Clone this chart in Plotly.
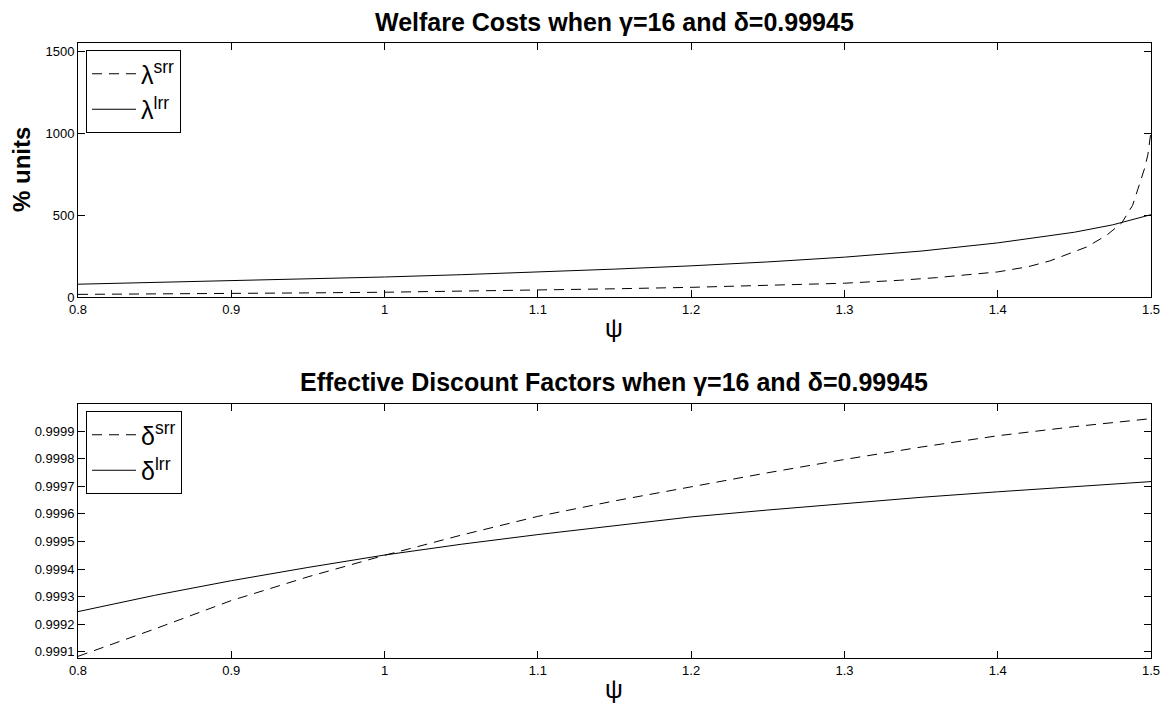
import plotly.graph_objects as go

# ---- data ----
psi_lrr = [0.8, 0.85, 0.9, 0.95, 1.0, 1.05, 1.1, 1.15, 1.2, 1.25, 1.3, 1.35, 1.4, 1.45, 1.475, 1.5]
lambda_lrr = [78, 88, 99, 110, 122, 136, 152, 170, 190, 214, 243, 280, 330, 395, 440, 502]

psi_srr = [0.8, 0.85, 0.9, 0.95, 1.0, 1.05, 1.1, 1.15, 1.2, 1.25, 1.3, 1.336, 1.36, 1.4,
           1.42, 1.434, 1.445, 1.458, 1.471, 1.481, 1.488, 1.4928, 1.496, 1.498, 1.5]
lambda_srr = [16, 18, 21, 25, 29, 35, 42, 50, 59, 70, 84, 102, 118, 153,
              185, 220, 260, 305, 376, 453, 559, 691, 790, 870, 1010]

psi_d = [0.8, 0.85, 0.9, 0.95, 1.0, 1.05, 1.1, 1.15, 1.2, 1.25, 1.3, 1.35, 1.4, 1.45, 1.5]
delta_srr = [0.999084, 0.999183, 0.999286, 0.999372, 0.999450, 0.999523, 0.999591, 0.999647,
             0.999698, 0.999749, 0.999797, 0.999842, 0.999883, 0.999916, 0.999945]
delta_lrr = [0.999246, 0.999305, 0.999358, 0.999406, 0.999451, 0.999490, 0.999525, 0.999558,
             0.999589, 0.999614, 0.999638, 0.999660, 0.999680, 0.999699, 0.999717]

x_ticks = [0.8, 0.9, 1.0, 1.1, 1.2, 1.3, 1.4, 1.5]
x_ticktext = ["0.8", "0.9", "1", "1.1", "1.2", "1.3", "1.4", "1.5"]
y1_ticks = [0, 500, 1000, 1500]
y2_ticks = [0.9991, 0.9992, 0.9993, 0.9994, 0.9995, 0.9996, 0.9997, 0.9998, 0.9999]

# the page body has an 8px margin: the figure is offset by 8px inside the window
OFF = 8
W, H = 1173 - OFF, 711 - OFF
FONT = "Liberation Sans, Arial, Helvetica, sans-serif"
dash = "10px,7px"


def px(x):
    return (x - OFF) / W


def py(y):
    return 1 - (y - OFF) / H


fig = go.Figure()
fig.add_trace(go.Scatter(x=psi_srr, y=lambda_srr, mode="lines", name="λ<sup>srr</sup>",
                         line=dict(color="black", width=1, dash=dash), xaxis="x", yaxis="y", legend="legend"))
fig.add_trace(go.Scatter(x=psi_lrr, y=lambda_lrr, mode="lines", name="λ<sup>lrr</sup>",
                         line=dict(color="black", width=1), xaxis="x", yaxis="y", legend="legend"))
fig.add_trace(go.Scatter(x=psi_d, y=delta_srr, mode="lines", name="δ<sup>srr</sup>",
                         line=dict(color="black", width=1, dash=dash), xaxis="x2", yaxis="y2", legend="legend2"))
fig.add_trace(go.Scatter(x=psi_d, y=delta_lrr, mode="lines", name="δ<sup>lrr</sup>",
                         line=dict(color="black", width=1), xaxis="x2", yaxis="y2", legend="legend2"))

xdom = [px(78), px(1151)]
ax_common = dict(showline=True, linecolor="black", linewidth=1, mirror="ticks", ticks="inside",
                 ticklen=7, tickcolor="black", showgrid=False, zeroline=False, automargin=False,
                 tickfont=dict(family=FONT, size=13, color="black"))

legend_common = dict(xanchor="left", yanchor="top", bgcolor="white",
                     bordercolor="black", borderwidth=1, font=dict(family=FONT, size=25, color="black"),
                     itemwidth=44, tracegroupgap=0)

fig.update_layout(
    template="none",
    width=W, height=H,
    paper_bgcolor="white", plot_bgcolor="white",
    margin=dict(l=0, r=0, t=0, b=0),
    font=dict(family=FONT, color="black"),
    xaxis=dict(domain=xdom, anchor="y", range=[0.8, 1.5], tickvals=x_ticks, ticktext=x_ticktext, **ax_common),
    yaxis=dict(domain=[py(297), py(43)], anchor="x", range=[0, 1549], tickvals=y1_ticks, **ax_common),
    xaxis2=dict(domain=xdom, anchor="y2", range=[0.8, 1.5], tickvals=x_ticks, ticktext=x_ticktext, **ax_common),
    yaxis2=dict(domain=[py(658), py(404)], anchor="x2", range=[0.999078, 0.999998],
                tickvals=y2_ticks, tickformat=".4f", **ax_common),
    legend=dict(x=px(86), y=py(50), **legend_common),
    legend2=dict(x=px(86), y=py(411), **legend_common),
    showlegend=True,
)

ann = dict(xref="paper", yref="paper", showarrow=False, xanchor="center", yanchor="middle")
fig.add_annotation(text="<b>Welfare Costs when γ=16 and δ=0.99945</b>", x=px(614), y=py(22),
                   font=dict(family=FONT, size=25), **ann)
fig.add_annotation(text="<b>Effective Discount Factors when γ=16 and δ=0.99945</b>", x=px(614), y=py(382),
                   font=dict(family=FONT, size=25), **ann)
fig.add_annotation(text="ψ", x=px(614), y=py(328), font=dict(family=FONT, size=25), **ann)
fig.add_annotation(text="ψ", x=px(614), y=py(689), font=dict(family=FONT, size=25), **ann)
fig.add_annotation(text="<b>% units</b>", x=px(22), y=py(170), textangle=-90,
                   font=dict(family=FONT, size=24), **ann)

fig.write_html("out.html")
